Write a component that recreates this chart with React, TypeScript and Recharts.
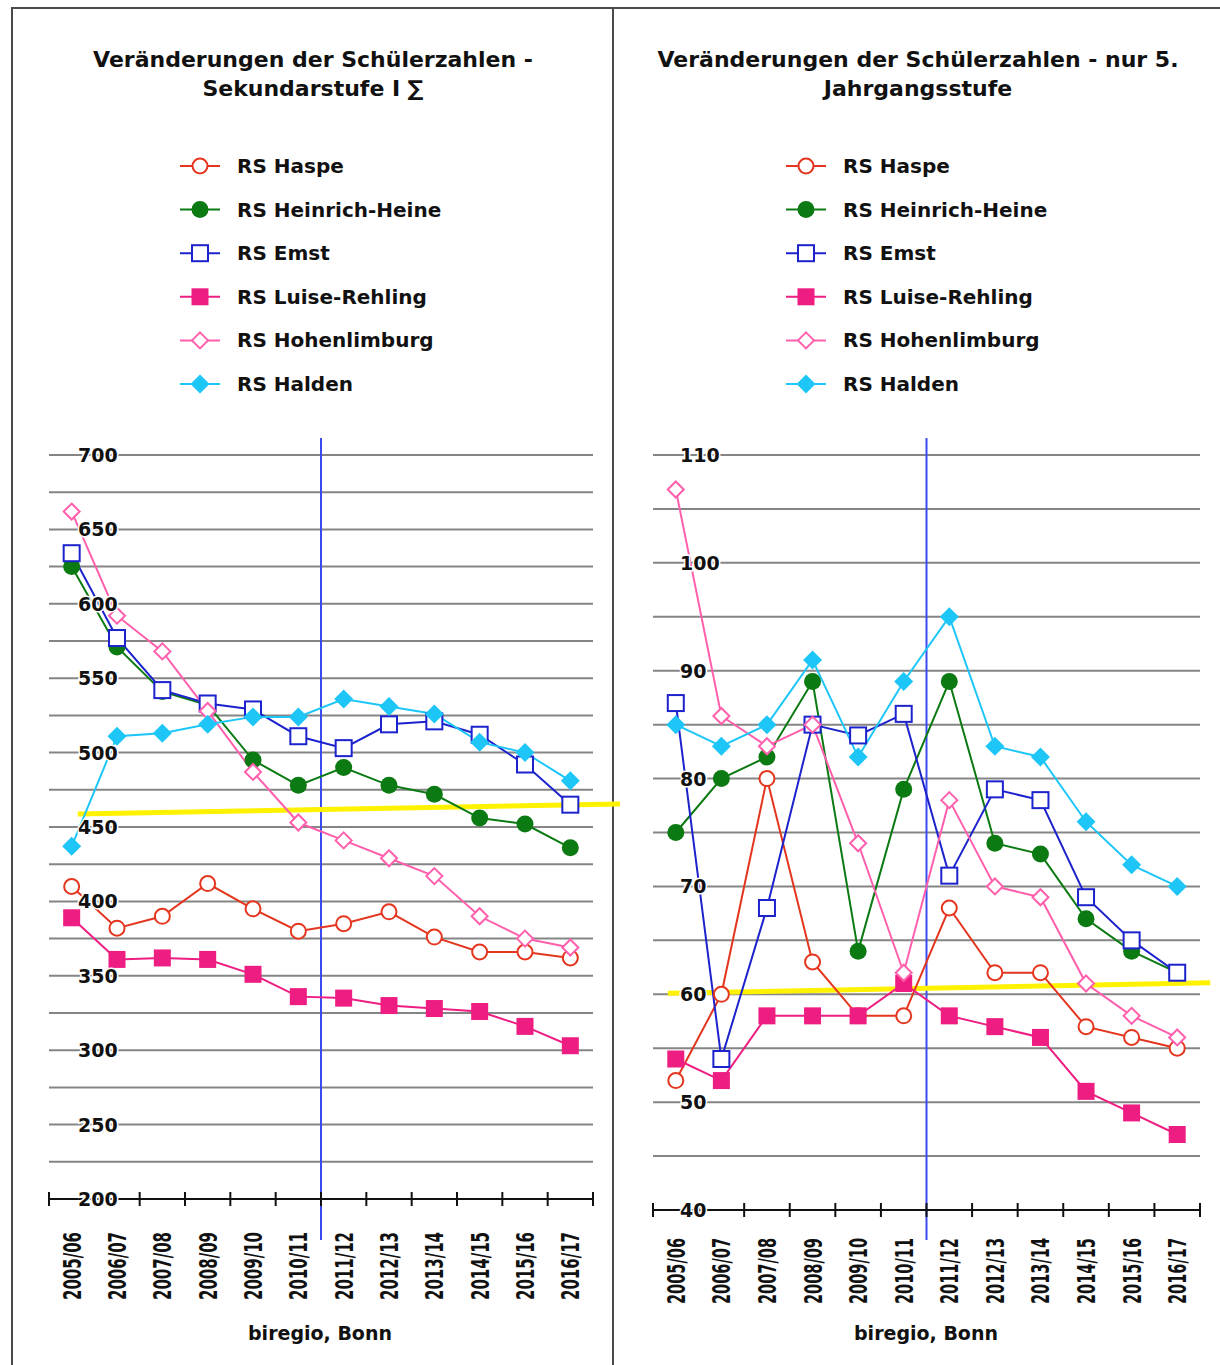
import React from 'react';
import { LineChart, Line, XAxis, YAxis, CartesianGrid, ReferenceLine } from 'recharts';

const years = ['2005/06', '2006/07', '2007/08', '2008/09', '2009/10', '2010/11', '2011/12', '2012/13', '2013/14', '2014/15', '2015/16', '2016/17'];

// Sekundarstufe I gesamt
const sekHaspe = [410, 382, 390, 412, 395, 380, 385, 393, 376, 366, 366, 362];
const sekHeinrichHeine = [625, 571, 541, 532, 495, 478, 490, 478, 472, 456, 452, 436];
const sekEmst = [634, 577, 542, 533, 529, 511, 503, 519, 521, 512, 492, 465];
const sekLuiseRehling = [389, 361, 362, 361, 351, 336, 335, 330, 328, 326, 316, 303];
const sekHohenlimburg = [662, 592, 568, 528, 487, 453, 441, 429, 417, 390, 375, 369];
const sekHalden = [437, 511, 513, 519, 524, 524, 536, 531, 526, 507, 500, 481];

// nur 5. Jahrgangsstufe
const jg5Haspe = [52, 60, 80, 63, 58, 58, 68, 62, 62, 57, 56, 55];
const jg5HeinrichHeine = [75, 80, 82, 89, 64, 79, 89, 74, 73, 67, 64, 62];
const jg5Emst = [87, 54, 68, 85, 84, 86, 71, 79, 78, 69, 65, 62];
const jg5LuiseRehling = [54, 52, 58, 58, 58, 61, 58, 57, 56, 51, 49, 47];
const jg5Hohenlimburg = [106.8, 85.8, 83, 85, 74, 62, 78, 70, 69, 61, 58, 56];
const jg5Halden = [85, 83, 85, 91, 82, 89, 95, 83, 82, 76, 72, 70];

const sekTicks = [200, 225, 250, 275, 300, 325, 350, 375, 400, 425, 450, 475, 500, 525, 550, 575, 600, 625, 650, 675, 700];
const jg5Ticks = [40, 45, 50, 55, 60, 65, 70, 75, 80, 85, 90, 95, 100, 105, 110];

// hand-drawn yellow marker line (start / end value)
const sekTrend = [458.7, 464.9];
const jg5Trend = [60.1, 61.0];

const schools = [
  { key: 'haspe', name: 'RS Haspe', color: '#e4361f', marker: 'circleOpen' },
  { key: 'heinrichHeine', name: 'RS Heinrich-Heine', color: '#0c7a12', marker: 'circle' },
  { key: 'emst', name: 'RS Emst', color: '#1c22cc', marker: 'squareOpen' },
  { key: 'luiseRehling', name: 'RS Luise-Rehling', color: '#ee1d82', marker: 'square' },
  { key: 'hohenlimburg', name: 'RS Hohenlimburg', color: '#ff5fac', marker: 'diamondOpen' },
  { key: 'halden', name: 'RS Halden', color: '#1ec6f8', marker: 'diamond' },
];

const FONT = '"DejaVu Sans", "Liberation Sans", sans-serif';
const H = 1365;
const XAXIS_H = 120;

function Marker({ kind, cx, cy, color }: any) {
  if (cx == null || cy == null) return null;
  switch (kind) {
    case 'circleOpen':
      return <circle cx={cx} cy={cy} r={7.5} fill="#fff" stroke={color} strokeWidth={2} />;
    case 'circle':
      return <circle cx={cx} cy={cy} r={8.5} fill={color} />;
    case 'squareOpen':
      return <rect x={cx - 8} y={cy - 8} width={16} height={16} fill="#fff" stroke={color} strokeWidth={2} />;
    case 'square':
      return <rect x={cx - 8.5} y={cy - 8.5} width={17} height={17} fill={color} />;
    case 'diamondOpen':
      return <polygon points={`${cx},${cy - 8} ${cx + 8},${cy} ${cx},${cy + 8} ${cx - 8},${cy}`} fill="#fff" stroke={color} strokeWidth={2} />;
    default:
      return <polygon points={`${cx},${cy - 9.5} ${cx + 9.5},${cy} ${cx},${cy + 9.5} ${cx - 9.5},${cy}`} fill={color} />;
  }
}

function XTick({ x, y, payload, index, band, count, gap, len }: any) {
  const half = band / 2;
  const top = y + gap;
  return (
    <g>
      <line x1={x - half} x2={x - half} y1={y - 7} y2={y + 7} stroke="#111" strokeWidth={2} />
      {index === count - 1 && <line x1={x + half} x2={x + half} y1={y - 7} y2={y + 7} stroke="#111" strokeWidth={2} />}
      <text
        x={x}
        y={top}
        dy={9}
        transform={`rotate(-90 ${x} ${top})`}
        textAnchor="end"
        fontSize={24}
        fontWeight={700}
        fontFamily={FONT}
        textLength={len}
        lengthAdjust="spacingAndGlyphs"
        fill="#111"
      >
        {payload.value}
      </text>
    </g>
  );
}

function YTick({ x, y, payload, step }: any) {
  if (payload.value % step !== 0) return <g />;
  return (
    <text x={x} y={y} dy={7} textAnchor="start" fontSize={19} fontWeight={700} fontFamily={FONT} fill="#111" stroke="#fff" strokeWidth={3} paintOrder="stroke">
      {payload.value}
    </text>
  );
}

function Panel(p: any) {
  const data = years.map((year, i) => {
    const row: any = { year };
    schools.forEach((s, k) => {
      row[s.key] = p.values[k][i];
    });
    return row;
  });
  const band = (p.plotRight - p.plotLeft) / years.length;
  const [t0, t1] = p.trendExt;
  return (
    <div style={{ position: 'absolute', left: p.left, top: 0 }}>
      <LineChart
        width={p.width}
        height={H}
        data={data}
        margin={{ top: p.plotTop, right: p.left + p.width - p.plotRight, bottom: H - p.plotBottom - XAXIS_H, left: p.plotLeft - p.left }}
      >
        <CartesianGrid vertical={false} stroke="#858585" strokeWidth={2} />
        <XAxis
          dataKey="year"
          height={XAXIS_H}
          padding={{ left: band / 2, right: band / 2 }}
          interval={0}
          tickLine={false}
          tickSize={0}
          tickMargin={0}
          axisLine={{ stroke: '#111', strokeWidth: 2 }}
          tick={(t: any) => <XTick {...t} band={band} count={years.length} gap={p.labelGap} len={p.labelLen} />}
        />
        <YAxis
          type="number"
          mirror
          width={60}
          domain={p.domain}
          ticks={p.ticks}
          interval={0}
          tickLine={false}
          axisLine={false}
          tickSize={0}
          tickMargin={p.labelInset}
          tick={(t: any) => <YTick {...t} step={p.labelStep} />}
        />
        <ReferenceLine
          x={years[6]}
          ifOverflow="visible"
          shape={(s: any) => (
            <line
              x1={s.x1 - band / 2}
              x2={s.x2 - band / 2}
              y1={Math.min(s.y1, s.y2) - 17}
              y2={Math.max(s.y1, s.y2) + p.cutBelow}
              stroke="#3a4cf0"
              strokeWidth={2}
            />
          )}
        />
        <ReferenceLine
          segment={[
            { x: years[0], y: p.trend[0] },
            { x: years[years.length - 1], y: p.trend[1] },
          ]}
          ifOverflow="visible"
          shape={(s: any) => (
            <line
              x1={s.x1 + (s.x2 - s.x1) * t0}
              y1={s.y1 + (s.y2 - s.y1) * t0}
              x2={s.x1 + (s.x2 - s.x1) * t1}
              y2={s.y1 + (s.y2 - s.y1) * t1}
              stroke="#fff200"
              strokeWidth={5}
            />
          )}
        />
        {schools.map((s) => (
          <Line
            key={s.key}
            dataKey={s.key}
            name={s.name}
            type="linear"
            stroke={s.color}
            strokeWidth={2}
            isAnimationActive={false}
            activeDot={false}
            dot={(d: any) => <Marker key={`${s.key}-${d.index}`} kind={s.marker} cx={d.cx} cy={d.cy} color={s.color} />}
          />
        ))}
      </LineChart>
    </div>
  );
}

function LegendBlock({ x }: { x: number }) {
  return (
    <g>
      {schools.map((s, i) => {
        const cy = 166 + i * 43.6;
        return (
          <g key={s.key}>
            <line x1={x} x2={x + 40} y1={cy} y2={cy} stroke={s.color} strokeWidth={2} />
            <Marker kind={s.marker} cx={x + 20} cy={cy} color={s.color} />
            <text x={x + 57} y={cy + 7} fontSize={20} fontWeight={700} fontFamily={FONT} fill="#111">
              {s.name}
            </text>
          </g>
        );
      })}
    </g>
  );
}

function Frame() {
  const title = { fontSize: 22, fontWeight: 700, fontFamily: FONT, fill: '#111', textAnchor: 'middle' as const };
  const foot = { fontSize: 19, fontWeight: 700, fontFamily: FONT, fill: '#111', textAnchor: 'middle' as const };
  return (
    <svg width={1220} height={H} style={{ position: 'absolute', left: 0, top: 0 }}>
      <path d="M12 1365 V8 H1220 M613 8 V1365" fill="none" stroke="#4a4a4a" strokeWidth={2} />
      <text x={313} y={67} {...title}>Veränderungen der Schülerzahlen -</text>
      <text x={313} y={96} {...title}>Sekundarstufe I ∑</text>
      <text x={918} y={67} {...title}>Veränderungen der Schülerzahlen - nur 5.</text>
      <text x={918} y={96} {...title}>Jahrgangsstufe</text>
      <LegendBlock x={180} />
      <LegendBlock x={786} />
      <text x={320} y={1340} {...foot}>biregio, Bonn</text>
      <text x={926} y={1340} {...foot}>biregio, Bonn</text>
    </svg>
  );
}

export default function App() {
  return (
    <div style={{ position: 'absolute', left: 0, top: 0, width: 1220, height: H, background: '#fff', overflow: 'hidden' }}>
      <Frame />
      <Panel
        left={12}
        width={608}
        plotLeft={49}
        plotRight={593}
        plotTop={455}
        plotBottom={1199}
        values={[sekHaspe, sekHeinrichHeine, sekEmst, sekLuiseRehling, sekHohenlimburg, sekHalden]}
        domain={[200, 700]}
        ticks={sekTicks}
        labelStep={50}
        labelInset={29}
        labelGap={33}
        labelLen={68}
        cutBelow={41}
        trend={sekTrend}
        trendExt={[0.012, 1.1]}
      />
      <Panel
        left={614}
        width={606}
        plotLeft={653}
        plotRight={1200}
        plotTop={455}
        plotBottom={1210}
        values={[jg5Haspe, jg5HeinrichHeine, jg5Emst, jg5LuiseRehling, jg5Hohenlimburg, jg5Halden]}
        domain={[40, 110]}
        ticks={jg5Ticks}
        labelStep={10}
        labelInset={27}
        labelGap={28}
        labelLen={66}
        cutBelow={30}
        trend={jg5Trend}
        trendExt={[-0.016, 1.066]}
      />
    </div>
  );
}
